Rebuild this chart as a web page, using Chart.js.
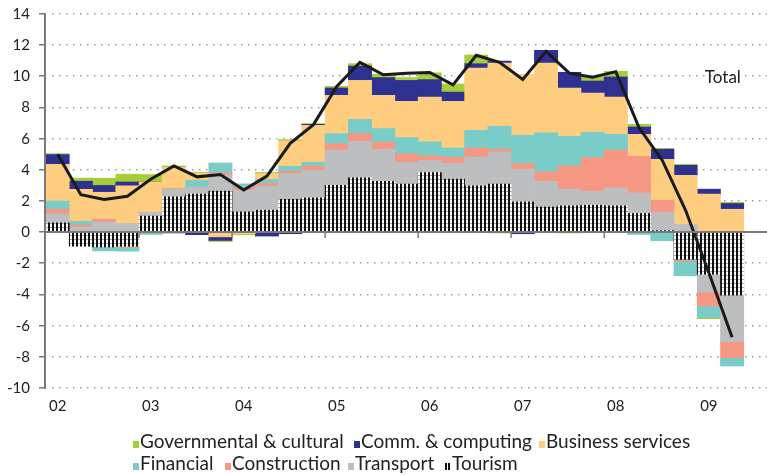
<!DOCTYPE html>
<html>
<head>
<meta charset="utf-8">
<script src="https://cdn.jsdelivr.net/npm/chart.js@4.4.0/dist/chart.umd.min.js"></script>
<style>
  html, body { margin: 0; padding: 0; background: #fff; }
  #wrap { position: relative; width: 767px; height: 475px; }
  #legend { position: absolute; left: 0; top: 425px; width: 767px; height: 50px; pointer-events: none;
            font-family: Lato, sans-serif; font-size: 19px; color: #222; }
  .item { position: absolute; white-space: nowrap; line-height: 20px; }
  .box { display: inline-block; width: 6px; height: 7px; margin-right: 1px; vertical-align: baseline; }
</style>
</head>
<body>
<div id="wrap">
  <canvas id="chart" width="767" height="475"></canvas>
  <div id="legend"></div>
</div>
<script>
const quarters = ['2002Q1', '2002Q2', '2002Q3', '2002Q4', '2003Q1', '2003Q2', '2003Q3', '2003Q4',
    '2004Q1', '2004Q2', '2004Q3', '2004Q4', '2005Q1', '2005Q2', '2005Q3', '2005Q4',
    '2006Q1', '2006Q2', '2006Q3', '2006Q4', '2007Q1', '2007Q2', '2007Q3', '2007Q4',
    '2008Q1', '2008Q2', '2008Q3', '2008Q4', '2009Q1', '2009Q2'];

const tourism = [0.6, -0.9, -0.95, -0.9, 1.03, 2.26, 2.44, 2.63, 1.3, 1.41, 2.11, 2.2, 3.01, 3.48, 3.27, 3.08,
    3.82, 3.4, 2.97, 3.08, 1.94, 1.62, 1.69, 1.73, 1.69, 1.2, 0.1, -1.75, -2.69, -4.04];
const transport = [0.57, 0.3, 0.66, 0.55, 0.25, 0.48, 0.46, 1.02, 1.39, 1.54, 1.65, 1.77, 2.25, 2.35, 2.05, 1.41,
    0.79, 1.02, 1.86, 2.07, 2.1, 1.65, 1.07, 0.9, 1.15, 1.32, 1.18, 0.51, -1.16, -2.99];
const construction = [0.3, 0.15, 0.17, -0.07, -0.05, 0.05, -0.03, 0.15, 0.17, 0.17, 0.15, 0.26, 0.42, 0.49, 0.45, 0.55,
    0.28, 0.39, 0.57, 0.17, 0.36, 0.6, 1.49, 2.16, 2.42, 2.35, 0.77, -0.1, -0.89, -1.03];
const financial = [0.53, 0.25, -0.25, -0.25, -0.1, 0, 0.43, 0.64, 0.22, 0.26, 0.32, 0.26, 0.64, 0.92, 0.88, 1.03,
    0.9, 0.59, 1.14, 1.48, 1.82, 2.5, 1.9, 1.62, 1.02, -0.15, -0.55, -0.95, -0.73, -0.53];
const business = [2.36, 2.05, 1.73, 2.42, 1.94, 1.36, 0.47, -0.3, -0.1, 0.38, 1.62, 2.37, 2.46, 2.5, 2.13, 2.33,
    2.88, 3.0, 3.99, 4.05, 3.88, 4.48, 3.1, 2.52, 2.39, 1.41, 2.63, 3.14, 2.44, 1.47];
const comm = [0.62, 0.52, 0.44, 0.25, 0, -0.05, -0.13, -0.23, 0, -0.25, -0.1, 0.06, 0.47, 0.92, 1.14, 1.34,
    1.12, 0.59, 0.28, 0.13, -0.1, 0.82, 1.01, 0.77, 1.29, 0.47, 0.64, 0.64, 0.32, 0.37];
const governmental = [0.06, 0.2, 0.46, 0.5, 0.48, 0.1, 0.05, -0.07, -0.07, 0.07, 0.09, 0.05, 0.11, 0.15, 0.21, 0.18,
    0.44, 0.52, 0.56, -0.05, 0, 0, -0.05, 0.26, 0.36, 0.17, 0.06, 0.07, -0.08, 0.08];
const total = [5.0, 2.4, 2.1, 2.3, 3.4, 4.25, 3.55, 3.7, 2.7, 3.6, 5.7, 6.9, 9.35, 10.9, 10.1, 10.2,
    10.25, 9.45, 11.35, 10.9, 9.8, 11.6, 10.2, 9.95, 10.3, 6.7, 4.6, 1.4, -2.6, -6.75];

const yTicks = [-10, -8, -6, -4, -2, 0, 2, 4, 6, 8, 10, 12, 14];

// striped fill for tourism
function stripes() {
    const c = document.createElement('canvas');
    c.width = 4;
    c.height = 4;
    const g = c.getContext('2d');
    g.fillStyle = '#fff';
    g.fillRect(0, 0, 4, 4);
    g.fillStyle = '#111';
    g.fillRect(0, 0, 2, 4);
    g.fillStyle = '#aaa';
    g.fillRect(2, 3, 2, 1);
    return g.createPattern(c, 'repeat');
}
const tourFill = stripes();

const series = [
    { label: 'Tourism', data: tourism, color: tourFill },
    { label: 'Transport', data: transport, color: '#bcbec0' },
    { label: 'Construction', data: construction, color: '#f69784' },
    { label: 'Financial', data: financial, color: '#7accc8' },
    { label: 'Business services', data: business, color: '#fecd7f' },
    { label: 'Comm. & computing', data: comm, color: '#2e3192' },
    { label: 'Governmental & cultural', data: governmental, color: '#a6ce39' },
];

const axisGray = '#7a7a7a';

// grid and axis drawn with fillRect only
const extras = {
    id: 'extras',
    beforeDatasetsDraw(chart) {
        const { ctx, chartArea, scales } = chart;
        const y = scales.y;
        ctx.save();
        ctx.globalAlpha = 1;
        ctx.globalCompositeOperation = 'source-over';
        ctx.fillStyle = '#9a9a9a';
        yTicks.forEach((v) => {
            if (v === 0) return;
            const yp = Math.round(y.getPixelForValue(v));
            for (let xp = chartArea.left + 6; xp < chartArea.right; xp += 7) {
                ctx.fillRect(xp, yp - 1, 1.5, 1.5);
            }
        });
        ctx.restore();
    },
    afterDraw(chart) {
        const { ctx, chartArea, scales } = chart;
        const x = scales.x;
        const y = scales.y;
        const y0 = Math.round(y.getPixelForValue(0));
        ctx.save();
        ctx.globalAlpha = 1;
        ctx.globalCompositeOperation = 'source-over';
        ctx.fillStyle = axisGray;
        // y axis with outward ticks
        ctx.fillRect(chartArea.left - 2, chartArea.top - 1, 2, chartArea.bottom - chartArea.top + 2);
        yTicks.forEach((v) => {
            const yp = Math.round(y.getPixelForValue(v));
            ctx.fillRect(chartArea.left - 7, yp - 1, 6, 1.5);
        });
        // zero line
        ctx.fillRect(chartArea.left, y0 - 1, chartArea.right - chartArea.left, 2);
        // year ticks on the zero line
        for (let i = 4; i < quarters.length; i += 4) {
            const xp = (x.getPixelForValue(i - 1) + x.getPixelForValue(i)) / 2;
            ctx.fillRect(xp - 0.75, y0, 1.5, 6);
        }
        // label for the total line
        ctx.font = '17px Lato';
        ctx.fillStyle = '#222';
        ctx.textBaseline = 'middle';
        ctx.fillText('Total', x.getPixelForValue(28) - 4, y.getPixelForValue(9.9));
        ctx.restore();
    },
};

Chart.defaults.font.family = 'Lato, sans-serif';
Chart.defaults.color = '#222';

new Chart(document.getElementById('chart'), {
    type: 'bar',
    data: {
        labels: quarters.concat(['']),
        datasets: [
            {
                type: 'line',
                label: 'Total',
                data: total,
                borderColor: '#1a1a1a',
                borderWidth: 3,
                pointRadius: 0,
                tension: 0,
                fill: false,
                stack: 'total',
                order: 0,
            },
            ...series.map((s) => ({
                label: s.label,
                data: s.data,
                backgroundColor: s.color,
                borderWidth: 0,
                categoryPercentage: 1,
                barPercentage: 1,
                stack: 'parts',
                order: 1,
            })),
        ],
    },
    options: {
        responsive: false,
        animation: false,
        layout: { padding: { top: 14, right: 0, left: 0, bottom: 0 } },
        plugins: {
            legend: { display: false },
            tooltip: { enabled: false },
        },
        scales: {
            x: {
                stacked: true,
                grid: { display: false, drawTicks: false },
                border: { display: false },
                ticks: {
                    autoSkip: false,
                    maxRotation: 0,
                    padding: 9,
                    font: { size: 15 },
                    color: '#222',
                    callback: (v, i) => (i % 4 === 0 && i < quarters.length ? quarters[i].slice(2, 4) : ''),
                },
                afterFit: (s) => { s.height = 87; },
            },
            y: {
                stacked: true,
                min: -10,
                max: 14,
                afterBuildTicks: (s) => { s.ticks = yTicks.map((v) => ({ value: v })); },
                grid: { display: false, drawTicks: false },
                border: { display: false },
                ticks: {
                    padding: 16,
                    font: { size: 15 },
                    color: '#222',
                },
                afterFit: (s) => {
                    s.width = 46;
                    s.paddingTop = 0;
                    s.paddingBottom = 0;
                },
            },
        },
    },
    plugins: [extras],
});

// legend, laid out as in the original
const legendRows = [
    [['Governmental & cultural', '#a6ce39', 133], ['Comm. & computing', '#2e3192', 354], ['Business services', '#fecd7f', 539]],
    [['Financial', '#7accc8', 133], ['Construction', '#f69784', 225], ['Transport', '#bcbec0', 348], ['Tourism', null, 445]],
];
const legend = document.getElementById('legend');
legendRows.forEach((row, r) => {
    row.forEach(([text, color, left]) => {
        const d = document.createElement('div');
        d.className = 'item';
        d.style.left = left + 'px';
        d.style.top = (6 + r * 22) + 'px';
        const b = document.createElement('span');
        b.className = 'box';
        b.style.background = color || 'repeating-linear-gradient(90deg, #111 0 1.5px, #fff 1.5px 3px)';
        d.appendChild(b);
        d.appendChild(document.createTextNode(text));
        legend.appendChild(d);
    });
});
</script>
</body>
</html>
